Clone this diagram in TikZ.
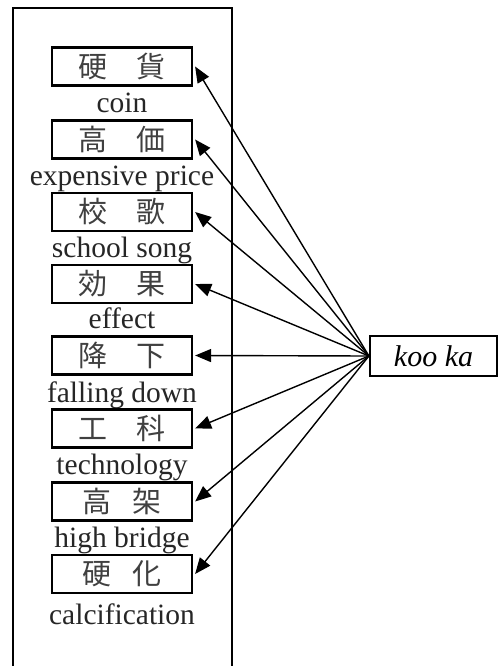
\documentclass[tikz,border=0pt]{standalone}
\usepackage{fontspec}
\setmainfont{Liberation Serif}
\newfontfamily\cjk{Noto Sans CJK JP}
\usetikzlibrary{arrows.meta}
\tikzset{
  wordbox/.style={draw, line width=2.2pt, minimum width=140pt, minimum height=38pt, inner sep=0pt},
  cjktext/.style={font=\cjk\fontsize{29}{30}\selectfont, text=black!75},
  gloss/.style={font=\fontsize{29.5}{32}\selectfont, anchor=base, text=black!85},
  link/.style={line width=1.4pt, -{Triangle[length=16pt,width=13pt]}},
}
\newcommand{\wide}[2]{#1\hspace{30pt}#2}
\newcommand{\narrow}[2]{#1\hspace{22pt}#2}
\begin{document}
\begin{tikzpicture}[x=1pt,y=-1pt]
\useasboundingbox (0,0) rectangle (499,666);
\draw[line width=2.2pt] (13,666) -- (13,8) -- (232,8) -- (232,666);

\node[wordbox, cjktext] (b1) at (122,66.5) {\wide{硬}{貨}};
\node[gloss] (g1) at (122,113) {coin};
\node[wordbox, cjktext] (b2) at (122,139.5) {\wide{高}{価}};
\node[gloss] (g2) at (122,185) {expensive price};
\node[wordbox, cjktext] (b3) at (122,212) {\wide{校}{歌}};
\node[gloss] (g3) at (122,257) {school song};
\node[wordbox, cjktext] (b4) at (122,284) {\wide{効}{果}};
\node[gloss] (g4) at (122,328) {effect};
\node[wordbox, cjktext] (b5) at (122,355.5) {\wide{降}{下}};
\node[gloss] (g5) at (122,402) {falling down};
\node[wordbox, cjktext] (b6) at (122,428.5) {\wide{工}{科}};
\node[gloss] (g6) at (122,474) {technology};
\node[wordbox, cjktext] (b7) at (122,501.5) {\narrow{高}{架}};
\node[gloss] (g7) at (122,547) {high bridge};
\node[wordbox, cjktext] (b8) at (122,574) {\narrow{硬}{化}};
\node[gloss] (g8) at (122,624) {calcification};

\node[draw, line width=2.2pt, minimum width=127pt, minimum height=40pt, inner sep=0pt,
      font=\itshape\fontsize{30}{32}\selectfont] (k) at (433.5,356) {koo ka};

\foreach \i in {1,...,8}{
  \draw[link] (k.west) -- ([xshift=2pt]b\i.east);
}
\end{tikzpicture}
\end{document}
